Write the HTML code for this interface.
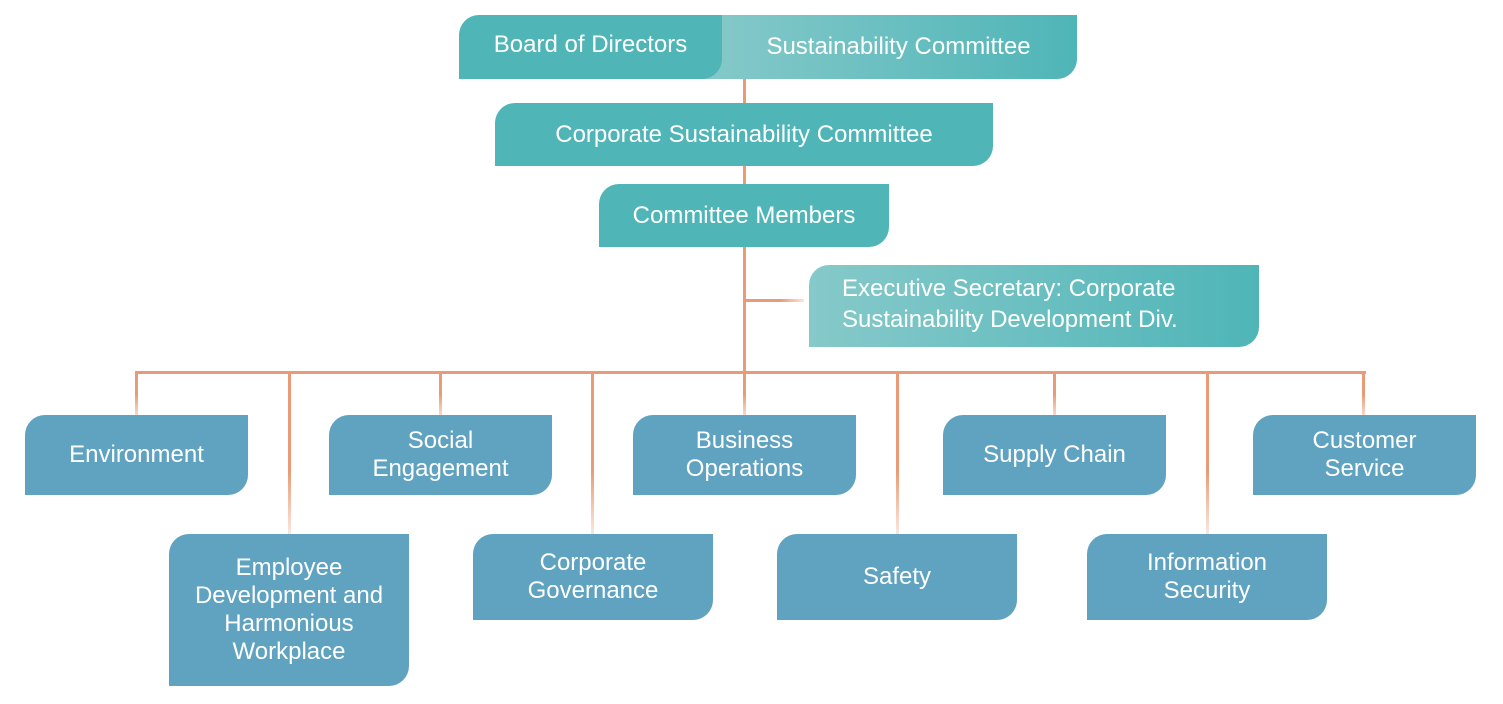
<!DOCTYPE html>
<html><head><style>
body{margin:0;width:1503px;height:704px;background:#fff;position:relative;overflow:hidden;font-family:"Liberation Sans",sans-serif;}
.b{position:absolute;color:#fff;font-size:24px;display:flex;align-items:center;justify-content:center;text-align:center;line-height:28px;border-radius:20px 0 20px 0;box-sizing:border-box;}
.t{background:#4fb5b7;}
.u{background:#5fa3c0;}
.l{position:absolute;background:#e99a76;}
.v{position:absolute;width:3px;}
</style></head><body>
<div class="l" style="left:743px;top:79px;width:3px;height:295px"></div>
<div class="l" style="left:744px;top:299px;width:60px;height:3px;background:linear-gradient(90deg,#e99a76 60%,#fbe5da)"></div>
<div class="l" style="left:135px;top:371px;width:1231px;height:3px"></div>
<div class="v" style="left:135px;top:372px;height:44px;background:linear-gradient(#e99a76 50%,#f8ddd0)"></div>
<div class="v" style="left:439px;top:372px;height:44px;background:linear-gradient(#e99a76 50%,#f8ddd0)"></div>
<div class="v" style="left:743px;top:372px;height:44px;background:linear-gradient(#e99a76 50%,#f8ddd0)"></div>
<div class="v" style="left:1053px;top:372px;height:44px;background:linear-gradient(#e99a76 50%,#f8ddd0)"></div>
<div class="v" style="left:1362px;top:372px;height:44px;background:linear-gradient(#e99a76 50%,#f8ddd0)"></div>
<div class="v" style="left:288px;top:372px;height:163px;background:linear-gradient(#e99a76 60%,#fbe8df)"></div>
<div class="v" style="left:591px;top:372px;height:163px;background:linear-gradient(#e99a76 60%,#fbe8df)"></div>
<div class="v" style="left:896px;top:372px;height:163px;background:linear-gradient(#e99a76 60%,#fbe8df)"></div>
<div class="v" style="left:1206px;top:372px;height:163px;background:linear-gradient(#e99a76 60%,#fbe8df)"></div>

<div class="b" style="left:700px;top:15px;width:377px;height:64px;border-radius:0 0 20px 0;background:linear-gradient(90deg,#86c9ca,#4fb5b7);padding-left:20px">Sustainability Committee</div>
<div class="b t" style="left:459px;top:15px;width:263px;height:64px;padding-bottom:4px">Board of Directors</div>
<div class="b t" style="left:495px;top:103px;width:498px;height:63px">Corporate Sustainability Committee</div>
<div class="b t" style="left:599px;top:184px;width:290px;height:63px">Committee Members</div>
<div class="b" style="left:809px;top:265px;width:450px;height:82px;background:linear-gradient(90deg,#86c9ca,#4fb5b7);justify-content:flex-start;text-align:left;padding-left:33px;padding-bottom:4px;line-height:31px">Executive Secretary: Corporate<br>Sustainability Development Div.</div>

<div class="b u" style="left:25px;top:415px;width:223px;height:80px">Environment</div>
<div class="b u" style="left:329px;top:415px;width:223px;height:80px">Social<br>Engagement</div>
<div class="b u" style="left:633px;top:415px;width:223px;height:80px">Business<br>Operations</div>
<div class="b u" style="left:943px;top:415px;width:223px;height:80px">Supply Chain</div>
<div class="b u" style="left:1253px;top:415px;width:223px;height:80px">Customer<br>Service</div>

<div class="b u" style="left:169px;top:534px;width:240px;height:152px">Employee<br>Development and<br>Harmonious<br>Workplace</div>
<div class="b u" style="left:473px;top:534px;width:240px;height:86px">Corporate<br>Governance</div>
<div class="b u" style="left:777px;top:534px;width:240px;height:86px">Safety</div>
<div class="b u" style="left:1087px;top:534px;width:240px;height:86px">Information<br>Security</div>
</body></html>
